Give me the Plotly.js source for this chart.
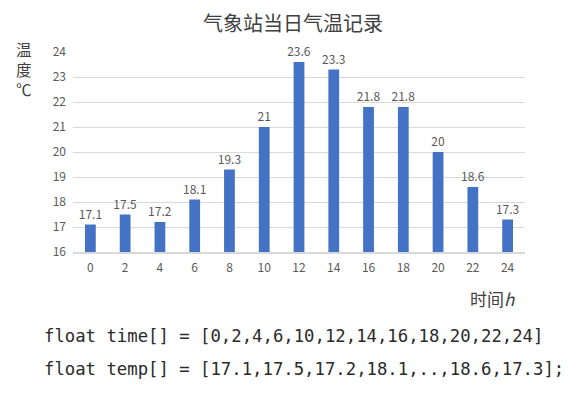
<!DOCTYPE html>
<html>
<head>
<meta charset="utf-8">
<script src="https://cdn.plot.ly/plotly-3.0.1.min.js"></script>
<style>html,body{margin:0;padding:0;background:#fff;}#chart{width:576px;height:399px;}</style>
</head>
<body>
<div id="chart"></div>
<script>
const hours = ['0','2','4','6','8','10','12','14','16','18','20','22','24'];
const temps = [17.1,17.5,17.2,18.1,19.3,21,23.6,23.3,21.8,21.8,20,18.6,17.3];
const yTicks = [16,17,18,19,20,21,22,23,24];
const titleText = '气象站当日气温记录';
const yTitleText = '温<br>度<br>℃';
const xTitleText = '时间<i>h</i>';
const codeLines = [
  'float time[] = [0,2,4,6,10,12,14,16,18,20,22,24]',
  'float temp[] = [17.1,17.5,17.2,18.1,..,18.6,17.3];'
];

const W = 576, H = 399;
const M = {l:73, r:51, t:52, b:147};
const PW = W - M.l - M.r, PH = H - M.t - M.b;
const px = x => (x - M.l) / PW;
const py = y => (H - M.b - y) / PH;

const cjk = '"Noto Sans CJK SC", "Noto Sans", sans-serif';
const gray = '#595959';

const annotations = [];
annotations.push({xref:'paper', yref:'paper', x:px(293), y:py(23), text:titleText, showarrow:false,
  xanchor:'center', yanchor:'middle', font:{family:cjk, size:20, color:'#404040'}});
annotations.push({xref:'paper', yref:'paper', x:px(24), y:py(68.5), text:yTitleText, showarrow:false,
  xanchor:'center', yanchor:'middle', font:{family:cjk, size:15.5, color:'#404040'}});
annotations.push({xref:'paper', yref:'paper', x:px(492), y:py(298), text:xTitleText, showarrow:false,
  xanchor:'center', yanchor:'middle', font:{family:cjk, size:17, color:'#404040'}});
const codeY = [336, 369];
codeLines.forEach((t,i)=>{
  annotations.push({xref:'paper', yref:'paper', x:px(42), y:py(codeY[i]), text:t, showarrow:false,
    xanchor:'left', yanchor:'middle', font:{family:'"DejaVu Sans Mono", monospace', size:17.3, color:'#2a2a2a'}});
});

const trace = {
  type:'bar', x:hours, y:temps.map(v => v - 16), base:16,
  marker:{color:'#4472C4'},
  text:temps.map(String), textposition:'outside', cliponaxis:false, constraintext:'none',
  textfont:{family:cjk, size:12, color:gray},
  hoverinfo:'none'
};

const layout = {
  width:W, height:H, margin:M,
  paper_bgcolor:'#fff', plot_bgcolor:'#fff',
  showlegend:false, bargap:0.69,
  xaxis:{type:'category', showgrid:false, showline:true, linecolor:'#d9d9d9', linewidth:1.5,
    ticks:'', ticklabelstandoff:4, tickfont:{family:cjk, size:12, color:gray}, fixedrange:true},
  yaxis:{range:[16,24], tickvals:yTicks, ticktext:yTicks.map(String), showgrid:true, gridcolor:'#d9d9d9',
    gridwidth:1, zeroline:false, showline:false, ticks:'', ticklabelstandoff:6,
    tickfont:{family:cjk, size:12, color:gray}, fixedrange:true},
  annotations:annotations
};
Plotly.newPlot('chart', [trace], layout, {staticPlot:true, displayModeBar:false});
</script>
</body>
</html>
